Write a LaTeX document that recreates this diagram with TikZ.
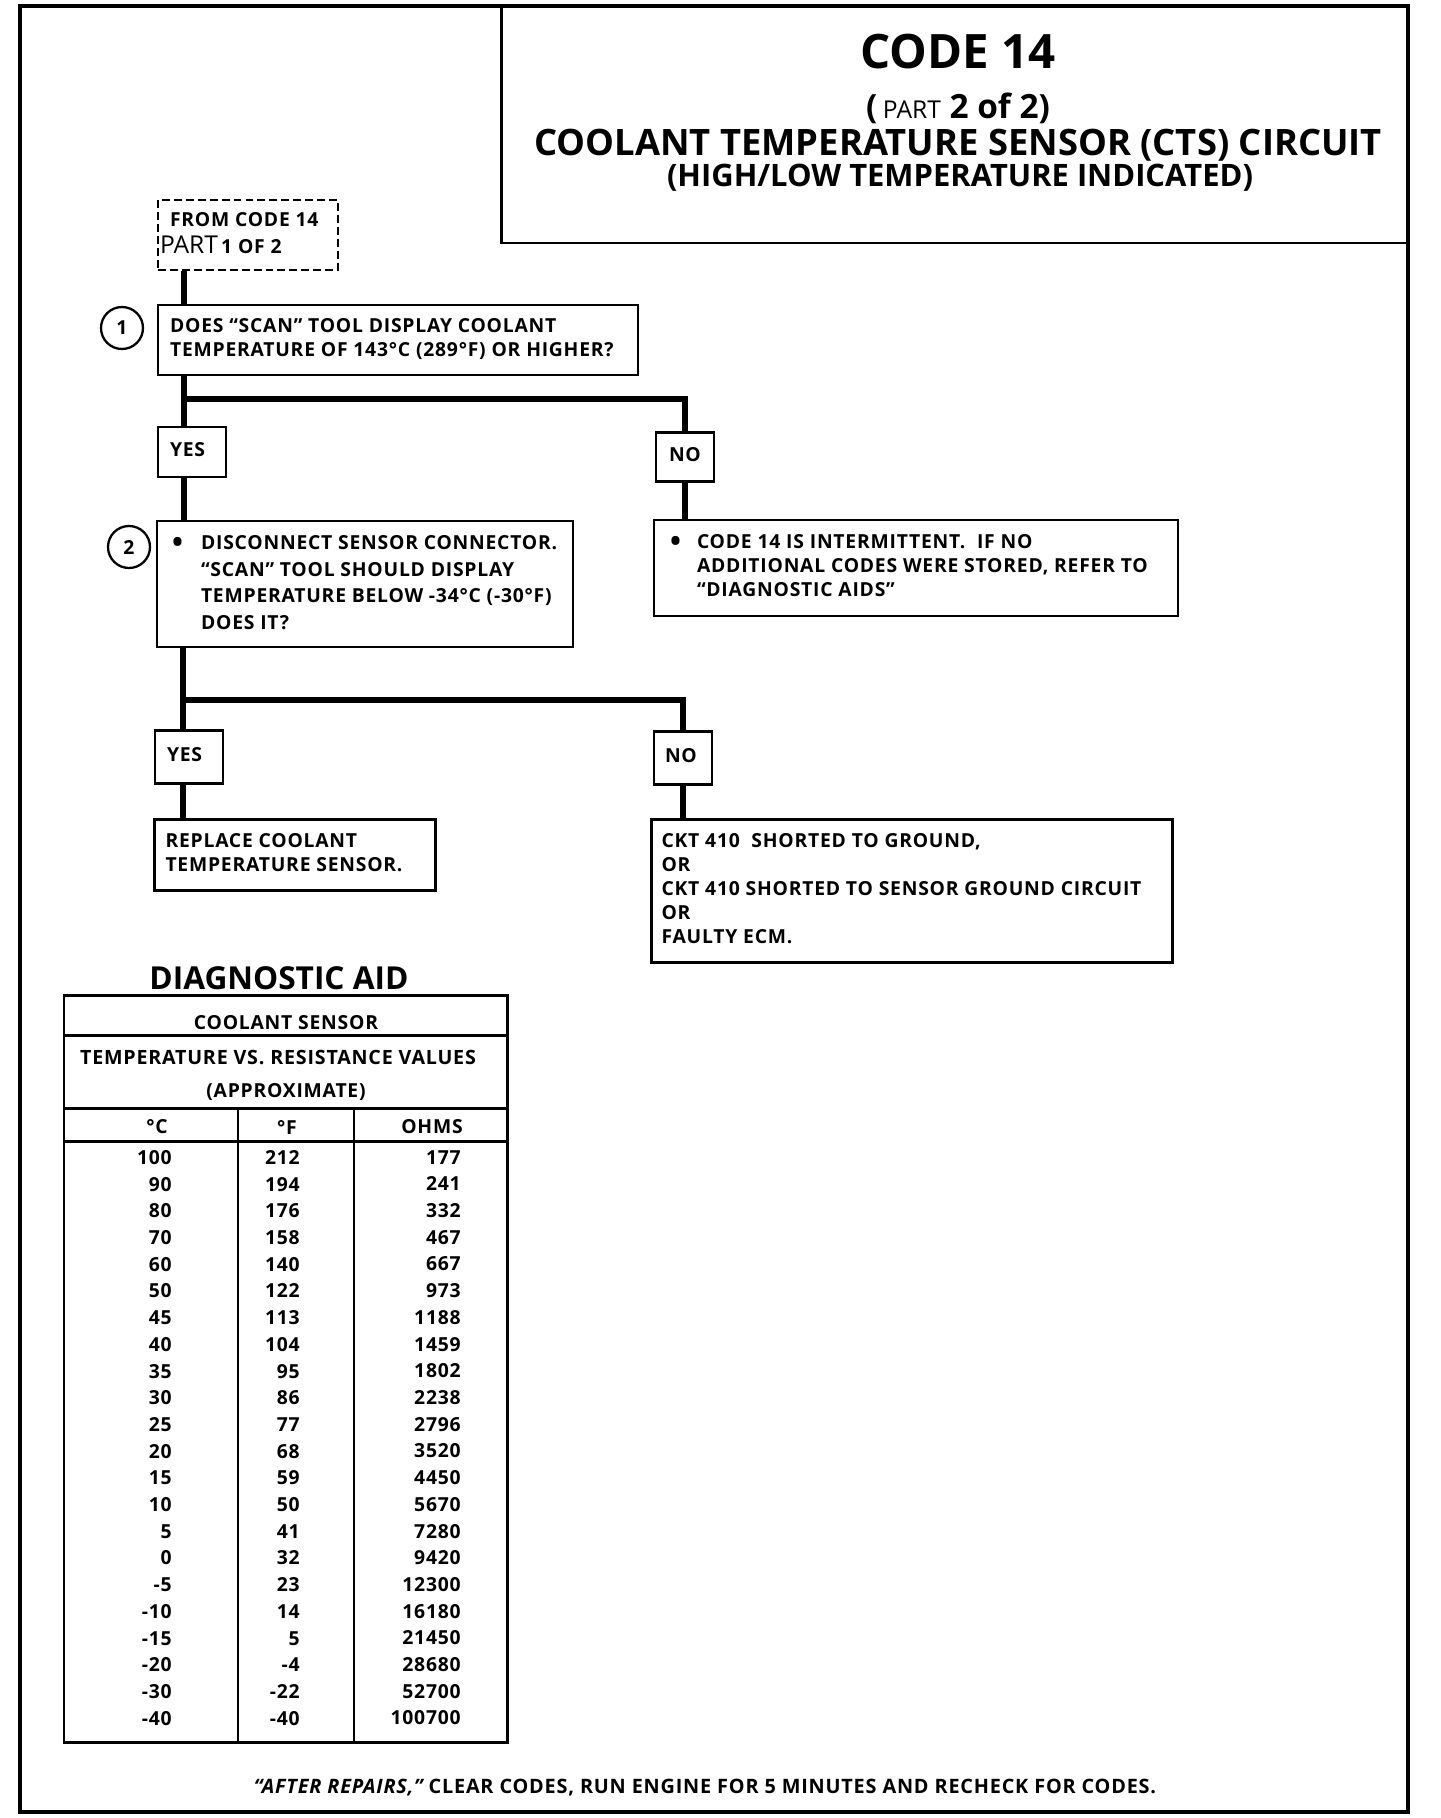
\documentclass[tikz,border=0pt]{standalone}
\usepackage{fontspec}
\setmainfont{Open Sans}
\newfontfamily\boxfont[LetterSpace=4]{Open Sans}

\newcommand{\flowfont}{\boxfont\bfseries\fontsize{11}{13.6}\selectfont}
\newcommand{\boxtext}[3]{\makebox[#1][l]{\hspace*{#2}\begin{tabular}{@{}l@{}}#3\end{tabular}}}
\newcommand{\blt}{\raisebox{-0.25ex}{\scalebox{1.5}{\textbullet}}}

\begin{document}
\begin{tikzpicture}[x=0.02cm, y=-0.02cm,
  flow/.style={line width=3.4pt},
  box/.style={draw, line width=1.3pt, fill=white, inner sep=0pt, font=\flowfont},
  numcirc/.style={draw, circle, line width=1.3pt, minimum size=0.84cm, inner sep=0pt, font=\flowfont},
  cell/.style={inner sep=0pt, font=\flowfont}]

  \useasboundingbox (0,0) rectangle (1440,1818);
  \draw[line width=2.8pt] (20,6) rectangle (1408,1812);
  \draw[line width=1.7pt] (501,6) -- (501,243) -- (1408,243);

  \node[cell, font=\bfseries\fontsize{27}{32}\selectfont] (code) at (958,52) {CODE 14};
  \node[cell, font=\bfseries\fontsize{19}{22}\selectfont] (part) at (958,108)
    {(\,{\mdseries\fontsize{14}{16}\selectfont PART} 2 of 2)};
  \node[cell, font=\bfseries\fontsize{20.7}{24}\selectfont] (circuit) at (958,145)
    {COOLANT TEMPERATURE SENSOR (CTS) CIRCUIT};
  \node[cell, font=\bfseries\fontsize{17.6}{20}\selectfont] (indicated) at (960,178)
    {(HIGH/LOW TEMPERATURE INDICATED)};

  \node[box, dash pattern=on 4.5pt off 2.3pt, line width=1.2pt, minimum height=1.4cm,
    font=\boxfont\bfseries\fontsize{11}{15.3}\selectfont] (from) at (248,235)
    {\boxtext{3.6cm}{0.04cm}{\hspace*{0.2cm}FROM CODE 14\\{\normalfont\fontsize{14}{15.3}\selectfont PART}\,1 OF 2}};

  \node[box, minimum height=1.4cm] (q1) at (398,340)
    {\boxtext{9.6cm}{0.24cm}{DOES “SCAN” TOOL DISPLAY COOLANT\\TEMPERATURE OF 143°C (289°F) OR HIGHER?}};
  \node[numcirc] (n1) at (122,328) {1};

  \node[box, minimum height=1cm] (yes1) at (192,452) {\boxtext{1.36cm}{0.24cm}{YES}};
  \node[box, minimum height=0.98cm] (no1) at (685,457) {\boxtext{1.16cm}{0.26cm}{NO}};

  \node[box, minimum height=2.52cm, font=\boxfont\bfseries\fontsize{11}{15.1}\selectfont] (q2) at (365,584)
    {\boxtext{8.32cm}{0.3cm}{\makebox[0.58cm][l]{\blt}DISCONNECT SENSOR CONNECTOR.\\
     \hspace*{0.58cm}“SCAN” TOOL SHOULD DISPLAY\\
     \hspace*{0.58cm}TEMPERATURE BELOW -34°C (-30°F)\\
     \hspace*{0.58cm}DOES IT?}};
  \node[numcirc] (n2) at (129,547) {2};

  \node[box, minimum height=1.92cm] (intermit) at (916,568)
    {\boxtext{10.48cm}{0.32cm}{\makebox[0.54cm][l]{\blt}CODE 14 IS INTERMITTENT.\ \ IF NO\\
     \hspace*{0.54cm}ADDITIONAL CODES WERE STORED, REFER TO\\
     \hspace*{0.54cm}“DIAGNOSTIC AIDS”}};

  \node[box, minimum height=1.06cm] (yes2) at (189,757) {\boxtext{1.36cm}{0.24cm}{YES}};
  \node[box, minimum height=1.06cm] (no2) at (683,758) {\boxtext{1.16cm}{0.22cm}{NO}};

  \node[box, minimum height=1.42cm] (replace) at (295,855)
    {\boxtext{5.62cm}{0.22cm}{REPLACE COOLANT\\TEMPERATURE SENSOR.}};
  \node[box, minimum height=2.86cm, font=\boxfont\bfseries\fontsize{11}{13.7}\selectfont] (ckt) at (912,891)
    {\boxtext{10.42cm}{0.2cm}{CKT 410\ \ SHORTED TO GROUND,\\OR\\CKT 410 SHORTED TO SENSOR GROUND CIRCUIT\\OR\\FAULTY ECM.}};

  \coordinate (j1) at (184,399);
  \coordinate (j1r) at (685,399);
  \coordinate (j2) at (183,700);
  \coordinate (j2r) at (683,700);
  \draw[flow] (from.south -| j1) -- (q1.north -| j1);
  \draw[flow] (q1.south -| j1) -- (yes1.north -| j1);
  \draw[flow] (j1) -- (j1r) -- (no1.north);
  \draw[flow] (yes1.south -| j1) -- (q2.north -| j1);
  \draw[flow] (no1.south) -- (intermit.north -| no1);
  \draw[flow] (q2.south -| j2) -- (yes2.north -| j2);
  \draw[flow] (j2) -- (j2r) -- (no2.north);
  \draw[flow] (yes2.south -| j2) -- (replace.north -| j2);
  \draw[flow] (no2.south) -- (ckt.north -| no2);

  \node[cell, font=\bfseries\fontsize{18}{20}\selectfont] (aid) at (279,978) {DIAGNOSTIC AID};
  \draw[line width=1.7pt] (64,995) rectangle (507,1742);
  \draw[line width=1.7pt] (64,1035) -- (507,1035);
  \draw[line width=1.7pt] (64,1108) -- (507,1108);
  \draw[line width=1.7pt] (64,1141) -- (507,1141);
  \draw[line width=1.7pt] (238,1108) -- (238,1742);
  \draw[line width=1.7pt] (354,1108) -- (354,1742);

  \node[cell] (sensor) at (286,1023) {COOLANT SENSOR};
  \node[cell, font=\boxfont\bfseries\fontsize{11.2}{13.6}\selectfont] (tvr) at (278,1057) {TEMPERATURE VS. RESISTANCE VALUES};
  \node[cell] (approx) at (286,1092) {(APPROXIMATE)};
  \node[cell] (hdc) at (157,1127) {°C};
  \node[cell] (hdf) at (287,1127) {°F};
  \node[cell] (hdohm) at (432,1127) {OHMS};

  \node[cell, align=right, anchor=north east, font=\boxfont\bfseries\fontsize{11}{15.2}\selectfont] (degc) at (172,1150)
    {100\\90\\80\\70\\60\\50\\45\\40\\35\\30\\25\\20\\15\\10\\5\\0\\-5\\-10\\-15\\-20\\-30\\-40};
  \node[cell, align=right, anchor=north east, font=\boxfont\bfseries\fontsize{11}{15.2}\selectfont] (degf) at (300,1150)
    {212\\194\\176\\158\\140\\122\\113\\104\\95\\86\\77\\68\\59\\50\\41\\32\\23\\14\\5\\-4\\-22\\-40};
  \node[cell, align=right, anchor=north east, font=\boxfont\bfseries\fontsize{11}{15.2}\selectfont] (ohms) at (461,1150)
    {177\\241\\332\\467\\667\\973\\1188\\1459\\1802\\2238\\2796\\3520\\4450\\5670\\7280\\9420\\12300\\16180\\21450\\28680\\52700\\100700};

  \node[cell, font=\boxfont\bfseries\fontsize{11.3}{14}\selectfont] (after) at (705,1788)
    {{\itshape “AFTER REPAIRS,”} CLEAR CODES, RUN ENGINE FOR 5 MINUTES AND RECHECK FOR CODES.};
\end{tikzpicture}
\end{document}
